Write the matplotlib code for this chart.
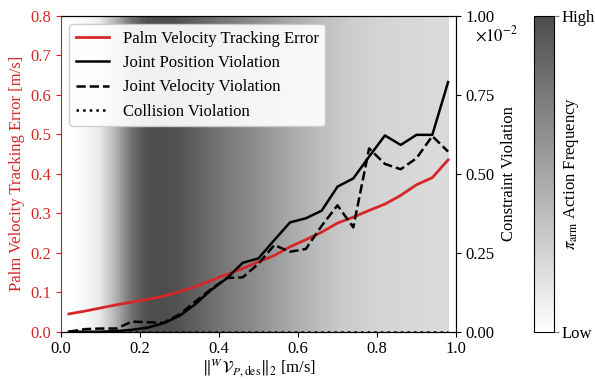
import matplotlib
matplotlib.use("Agg")
import matplotlib.pyplot as plt
import numpy as np
from matplotlib.colors import LinearSegmentedColormap
from matplotlib.ticker import FuncFormatter

plt.rcParams['font.family'] = ['Liberation Serif', 'DejaVu Serif']
plt.rcParams['mathtext.fontset'] = 'stix'
plt.rcParams['font.size'] = 12

# commanded palm speed bins [m/s]
speed = [0.02, 0.06, 0.10, 0.14, 0.18, 0.22, 0.26, 0.30, 0.34, 0.38, 0.42, 0.46, 0.50,
         0.54, 0.58, 0.62, 0.66, 0.70, 0.74, 0.78, 0.82, 0.86, 0.90, 0.94, 0.98]

# palm velocity tracking error [m/s]
palmError = [0.045, 0.052, 0.060, 0.068, 0.075, 0.082, 0.090, 0.101, 0.114, 0.130, 0.145, 0.160, 0.177,
             0.193, 0.215, 0.233, 0.252, 0.275, 0.290, 0.307, 0.323, 0.345, 0.372, 0.390, 0.435]

# constraint violations (x1e-2)
jointPos = [0.0, 0.0, 0.0, 0.002, 0.006, 0.013, 0.027, 0.05, 0.087, 0.132, 0.169, 0.218, 0.232,
            0.29, 0.346, 0.359, 0.383, 0.459, 0.485, 0.554, 0.621, 0.591, 0.623, 0.623, 0.79]
jointVel = [0.0, 0.008, 0.010, 0.010, 0.032, 0.030, 0.028, 0.055, 0.095, 0.135, 0.170, 0.172, 0.215,
            0.274, 0.253, 0.262, 0.335, 0.400, 0.330, 0.580, 0.531, 0.514, 0.549, 0.619, 0.570]
collision = [0.0] * len(speed)

# normalised pi_arm action frequency per bin
armFreq = [0.0, 0.03, 0.12, 0.42, 0.78, 0.98, 1.0, 0.97, 0.90, 0.83, 0.76, 0.70, 0.64,
           0.57, 0.50, 0.44, 0.38, 0.33, 0.29, 0.26, 0.24, 0.23, 0.22, 0.21, 0.21]

red = '#d62728'
greyMap = LinearSegmentedColormap.from_list('bg', ['#ffffff', '#4d4d4d'])

fig = plt.figure(figsize=(5.95, 3.79), dpi=100)
ax1 = fig.add_axes([0.1025, 0.1248, 0.6639, 0.8338])
ax2 = ax1.twinx()
cax = fig.add_axes([0.8975, 0.1248, 0.0336, 0.8338])

img = ax1.imshow(np.array(armFreq)[np.newaxis, :], extent=[0.0, 0.98, 0.0, 0.8],
                 aspect='auto', cmap=greyMap, vmin=0, vmax=1,
                 interpolation='bilinear', zorder=0)

l1, = ax1.plot(speed, palmError, color=red, lw=2, label='Palm Velocity Tracking Error')
l2, = ax2.plot(speed, np.array(jointPos) * 1e-2, color='black', lw=1.8, label='Joint Position Violation')
l3, = ax2.plot(speed, np.array(jointVel) * 1e-2, color='black', lw=1.8, ls='--', label='Joint Velocity Violation')
l4, = ax2.plot(speed, np.array(collision) * 1e-2, color='black', lw=1.8, ls=':', label='Collision Violation')

ax1.set_xlim(0, 1)
ax1.set_ylim(0, 0.8)
ax2.set_ylim(0, 0.01)
ax1.set_xticks(np.arange(0, 1.01, 0.2))
ax2.set_yticks([0, 0.0025, 0.005, 0.0075, 0.01])
ax2.yaxis.set_major_formatter(FuncFormatter(lambda v, p: f'{v * 100:.2f}'))
ax2.text(1.048, 0.939, r'$\times10^{-2}$', transform=ax1.transAxes, ha='left', va='center')

ax1.set_xlabel(r'$\|^{W}\mathcal{V}_{P,\mathrm{des}}\|_2$ [m/s]', labelpad=-1)
ax1.set_ylabel('Palm Velocity Tracking Error [m/s]', color=red)
ax1.tick_params(axis='y', colors=red)
ax1.spines['left'].set_color('#6e4242')
ax2.spines['left'].set_visible(False)
ax2.set_ylabel('Constraint Violation')

ax2.legend(handles=[l1, l2, l3, l4], loc='upper left', framealpha=0.92)

cb = fig.colorbar(img, cax=cax)
cb.set_ticks([0, 1])
cb.set_ticklabels(['Low', 'High'])
cax.tick_params(color='grey', pad=2)
cb.set_label(r'$\pi_\mathrm{arm}$ Action Frequency', labelpad=-24)

fig.savefig('out.png', dpi=100)
